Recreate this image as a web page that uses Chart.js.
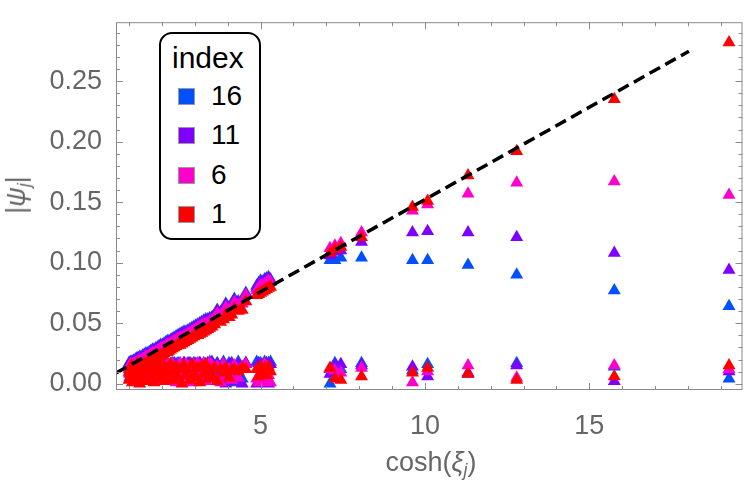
<!DOCTYPE html>
<html>
<head>
<meta charset="utf-8">
<script src="https://cdn.jsdelivr.net/npm/chart.js@4.4.0/dist/chart.umd.min.js"></script>
<style>
  body { margin: 0; background: #fff; }
  #caixa { position: relative; width: 750px; height: 488px; font-family: "Liberation Sans", Arial, sans-serif; }
  #grafico { position: absolute; left: 0; top: 0; }
  #tituloY { position: absolute; left: 20px; top: 195px; transform: translate(-50%, -50%) rotate(-90deg);
             font-size: 27px; color: #666; white-space: nowrap; line-height: 30px; }
  #tituloX { position: absolute; left: 431px; top: 442px; transform: translateX(-50%);
             font-size: 27px; color: #666; white-space: nowrap; line-height: 40px; }
  sub { font-size: 0.65em; vertical-align: -0.3em; }
  #legenda { position: absolute; left: 159px; top: 32px; width: 98px; height: 204px;
             border: 2px solid #000; border-radius: 13px; background: #fff; }
  #legenda .cab { position: absolute; left: 11px; top: 4px; font-size: 30px; line-height: 40px; color: #000; }
  #legenda .linha { position: absolute; left: 0; height: 40px; width: 98px; }
  #legenda .quad { position: absolute; left: 17px; top: 12px; width: 15px; height: 15px; border: 1px solid #999; }
  #legenda .txt { position: absolute; left: 50px; top: 0; font-size: 28px; line-height: 40px; color: #000; }
</style>
</head>
<body>
<div id="caixa">
  <canvas id="grafico" width="750" height="488"></canvas>
  <div id="tituloY">|<i>ψ</i><sub><i>j</i></sub>|</div>
  <div id="tituloX">cosh(<i>ξ</i><sub><i>j</i></sub>)</div>
  <div id="legenda"><div class="cab">index</div></div>
</div>
<script>
// cosh(xi_j)
const xCosh = [
  1.00, 1.02, 1.04, 1.07, 1.10, 1.13, 1.16, 1.20, 1.24, 1.28,
  1.32, 1.36, 1.41, 1.46, 1.51, 1.56, 1.61, 1.66, 1.71, 1.76,
  1.81, 1.86, 1.91, 1.96, 2.01, 2.06, 2.11, 2.16, 2.21, 2.26,
  2.31, 2.37, 2.43, 2.49, 2.55, 2.61, 2.67, 2.73, 2.79, 2.85,
  2.91, 2.97, 3.03, 3.09, 3.15, 3.21, 3.27, 3.33, 3.39, 3.45,
  3.52, 3.60, 3.68, 3.78, 3.87, 3.94, 4.04, 4.12, 4.20, 4.32, 4.44, 4.55,
  4.88, 4.94, 5.00, 5.06, 5.12, 5.18, 5.24, 5.30,
  7.11, 7.26, 7.44, 8.07, 9.62, 10.08, 11.31, 12.79, 15.76, 19.25
];

// ramo de cima |psi_j|
const alto16 = [
  0.017, 0.017, 0.018, 0.018, 0.018, 0.019, 0.019, 0.020, 0.021, 0.021,
  0.022, 0.022, 0.023, 0.024, 0.025, 0.025, 0.026, 0.027, 0.028, 0.028,
  0.029, 0.030, 0.031, 0.032, 0.032, 0.033, 0.034, 0.035, 0.035, 0.036,
  0.037, 0.038, 0.039, 0.040, 0.041, 0.042, 0.043, 0.043, 0.044, 0.045,
  0.046, 0.047, 0.048, 0.049, 0.050, 0.051, 0.052, 0.053, 0.053, 0.054,
  0.055, 0.057, 0.061, 0.059, 0.061, 0.066, 0.063, 0.065, 0.070, 0.068, 0.069, 0.075,
  0.081, 0.083, 0.085, 0.084, 0.086, 0.087, 0.088, 0.086,
  0.102, 0.102, 0.104, 0.104, 0.102, 0.102, 0.098, 0.090, 0.077, 0.064
];
const alto11 = [
  0.016, 0.016, 0.017, 0.017, 0.017, 0.018, 0.018, 0.019, 0.020, 0.020,
  0.021, 0.021, 0.022, 0.023, 0.024, 0.024, 0.025, 0.026, 0.027, 0.027,
  0.028, 0.029, 0.030, 0.031, 0.031, 0.032, 0.033, 0.034, 0.034, 0.035,
  0.036, 0.037, 0.038, 0.039, 0.040, 0.041, 0.042, 0.042, 0.043, 0.044,
  0.045, 0.046, 0.047, 0.048, 0.049, 0.050, 0.051, 0.052, 0.052, 0.053,
  0.054, 0.056, 0.060, 0.058, 0.060, 0.065, 0.062, 0.064, 0.069, 0.067, 0.068, 0.074,
  0.079, 0.082, 0.084, 0.083, 0.085, 0.086, 0.087, 0.085,
  0.106, 0.109, 0.110, 0.117, 0.125, 0.126, 0.125, 0.121, 0.108, 0.094
];
const alto6 = [
  0.014, 0.014, 0.015, 0.015, 0.015, 0.016, 0.016, 0.017, 0.018, 0.018,
  0.019, 0.019, 0.020, 0.021, 0.022, 0.022, 0.023, 0.024, 0.025, 0.025,
  0.026, 0.027, 0.028, 0.029, 0.029, 0.030, 0.031, 0.032, 0.032, 0.033,
  0.034, 0.035, 0.036, 0.037, 0.038, 0.038, 0.039, 0.040, 0.041, 0.042,
  0.043, 0.044, 0.045, 0.046, 0.047, 0.048, 0.049, 0.049, 0.050, 0.051,
  0.052, 0.054, 0.058, 0.056, 0.058, 0.063, 0.060, 0.062, 0.067, 0.065, 0.066, 0.073,
  0.077, 0.079, 0.081, 0.080, 0.082, 0.083, 0.085, 0.084,
  0.112, 0.114, 0.116, 0.125, 0.143, 0.148, 0.157, 0.166, 0.167, 0.156
];
const alto1 = [
  0.009, 0.010, 0.010, 0.010, 0.011, 0.011, 0.012, 0.012, 0.013, 0.013,
  0.014, 0.014, 0.015, 0.016, 0.017, 0.017, 0.018, 0.019, 0.019, 0.020,
  0.021, 0.022, 0.023, 0.023, 0.024, 0.025, 0.026, 0.026, 0.027, 0.028,
  0.029, 0.030, 0.031, 0.032, 0.032, 0.033, 0.034, 0.035, 0.036, 0.037,
  0.038, 0.039, 0.040, 0.040, 0.041, 0.042, 0.043, 0.044, 0.045, 0.046,
  0.047, 0.049, 0.052, 0.051, 0.053, 0.057, 0.055, 0.057, 0.062, 0.060, 0.061, 0.068,
  0.073, 0.074, 0.075, 0.076, 0.077, 0.078, 0.079, 0.080,
  0.108, 0.111, 0.113, 0.121, 0.146, 0.151, 0.172, 0.192, 0.235, 0.282
];

// ramo de baixo |psi_j|
const baixo16 = [
  0.017, 0.013, 0.010, 0.017, 0.016, 0.012, 0.017, 0.009, 0.015, 0.017,
  0.011, 0.016, 0.017, 0.013, 0.007, 0.017, 0.012, 0.016, 0.017, 0.010,
  0.014, 0.017, 0.016, 0.011, 0.017, 0.013, 0.015, 0.017, 0.009, 0.016,
  0.017, 0.012, 0.016, 0.017, 0.010, 0.015, 0.017, 0.013, 0.017, 0.014,
  0.011, 0.017, 0.016, 0.008, 0.017, 0.015, 0.017, 0.012, 0.016, 0.018,
  0.018, 0.014, 0.017, 0.012, 0.018, 0.003, 0.017, 0.016, 0.001, 0.018, 0.004, 0.017,
  0.018, 0.012, 0.017, 0.006, 0.018, 0.010, 0.017, 0.018,
  0.000, 0.017, 0.012, 0.017, 0.011, 0.016, 0.008, 0.017, 0.014, 0.004
];
const baixo11 = [
  0.015, 0.008, 0.017, 0.012, 0.004, 0.016, 0.010, 0.014, 0.017, 0.006,
  0.013, 0.017, 0.008, 0.011, 0.016, 0.014, 0.003, 0.017, 0.012, 0.009,
  0.015, 0.017, 0.011, 0.016, 0.008, 0.013, 0.017, 0.005, 0.015, 0.012,
  0.010, 0.017, 0.014, 0.007, 0.016, 0.013, 0.017, 0.009, 0.015, 0.017,
  0.012, 0.006, 0.016, 0.010, 0.017, 0.013, 0.004, 0.015, 0.017, 0.008,
  0.017, 0.010, 0.016, 0.007, 0.017, 0.000, 0.015, 0.017, 0.002, 0.016, 0.000, 0.017,
  0.000, 0.017, 0.002, 0.015, 0.001, 0.017, 0.000, 0.016,
  0.008, 0.015, 0.016, 0.015, 0.014, 0.006, 0.009, 0.015, 0.002, 0.010
];
const baixo6 = [
  0.012, 0.005, 0.016, 0.009, 0.014, 0.002, 0.011, 0.017, 0.007, 0.013,
  0.015, 0.004, 0.010, 0.016, 0.012, 0.006, 0.017, 0.009, 0.003, 0.014,
  0.011, 0.016, 0.007, 0.002, 0.015, 0.010, 0.013, 0.017, 0.005, 0.012,
  0.016, 0.008, 0.001, 0.014, 0.017, 0.011, 0.006, 0.016, 0.013, 0.009,
  0.001, 0.015, 0.012, 0.017, 0.008, 0.010, 0.016, 0.002, 0.014, 0.017,
  0.015, 0.004, 0.014, 0.001, 0.016, 0.006, 0.012, 0.003, 0.015, 0.005, 0.014, 0.016,
  0.004, 0.001, 0.009, 0.003, 0.016, 0.002, 0.007, 0.001,
  0.012, 0.011, 0.009, 0.013, 0.001, 0.010, 0.015, 0.005, 0.015, 0.012
];
const baixo1 = [
  0.003, 0.011, 0.006, 0.015, 0.001, 0.009, 0.013, 0.004, 0.016, 0.008,
  0.000, 0.012, 0.005, 0.014, 0.010, 0.002, 0.015, 0.007, 0.012, 0.001,
  0.016, 0.009, 0.004, 0.013, 0.006, 0.015, 0.002, 0.011, 0.008, 0.016,
  0.003, 0.010, 0.014, 0.005, 0.012, 0.000, 0.015, 0.007, 0.011, 0.003,
  0.016, 0.009, 0.005, 0.013, 0.001, 0.014, 0.008, 0.016, 0.004, 0.011,
  0.006, 0.013, 0.002, 0.012, 0.009, 0.013, 0.005, 0.011, 0.012, 0.010, 0.013, 0.012,
  0.012, 0.006, 0.014, 0.009, 0.013, 0.007, 0.014, 0.010,
  0.013, 0.004, 0.003, 0.006, 0.009, 0.013, 0.008, 0.003, 0.006, 0.015
];

const indices = ['16', '11', '6', '1'];
const cores = ['#0050ff', '#8000ff', '#ff00cc', '#ff0000'];

// reta tracejada
const retaX = [0.6, 18.03];
const retaY = [0.0088, 0.2747];

const ticksX = [5, 10, 15];
const ticksY = [0, 0.05, 0.10, 0.15, 0.20, 0.25];

const fonte = '"Liberation Sans", Arial, sans-serif';

const altos = [alto16, alto11, alto6, alto1];
const baixos = [baixo16, baixo11, baixo6, baixo1];

function pontos(alto, baixo) {
  const p = xCosh.map((x, i) => ({ x: x, y: alto[i] }));
  return p.concat(xCosh.map((x, i) => ({ x: x, y: baixo[i] })));
}

const series = indices.map((idx, k) => ({
  label: idx,
  data: pontos(altos[k], baixos[k]),
  backgroundColor: cores[k],
  borderWidth: 0,
  pointStyle: 'triangle',
  pointRadius: 7.5,
  pointHoverRadius: 7.5,
  order: 4 - k
}));

const reta = {
  data: retaX.map((x, i) => ({ x: x, y: retaY[i] })),
  showLine: true,
  borderColor: '#000',
  borderWidth: 3.5,
  borderDash: [12, 6],
  pointRadius: 0,
  fill: false,
  clip: 0,
  order: 0
};

const moldura = {
  id: 'moldura',
  afterDraw(chart) {
    const ctx = chart.ctx;
    const a = chart.chartArea;
    const sx = chart.scales.x, sy = chart.scales.y;
    ctx.save();
    ctx.strokeStyle = '#8a8a8a';
    ctx.lineWidth = 1;
    ctx.beginPath();
    for (let v = 1; v <= 19; v++) {
      const p = Math.round(sx.getPixelForValue(v)) + 0.5;
      const t = ticksX.includes(v) ? 7 : 4;
      ctx.moveTo(p, a.bottom); ctx.lineTo(p, a.bottom - t);
      ctx.moveTo(p, a.top); ctx.lineTo(p, a.top + t);
    }
    for (let k = 0; k <= 29; k++) {
      const p = Math.round(sy.getPixelForValue(k / 100)) + 0.5;
      const t = k % 5 === 0 ? 7 : 4;
      ctx.moveTo(a.left, p); ctx.lineTo(a.left + t, p);
      ctx.moveTo(a.right, p); ctx.lineTo(a.right - t, p);
    }
    ctx.stroke();
    ctx.strokeRect(a.left + 0.5, a.top + 0.5, a.right - a.left - 1, a.bottom - a.top - 1);
    ctx.restore();
  }
};

const canva = document.getElementById('grafico');

const grafico = new Chart(canva, {
  type: 'scatter',
  data: { datasets: series.concat([reta]) },
  options: {
    responsive: false,
    animation: false,
    layout: { padding: { top: 1, right: 3, left: 0, bottom: 0 } },
    plugins: { legend: { display: false }, tooltip: { enabled: false } },
    scales: {
      x: {
        type: 'linear',
        min: 0.60,
        max: 19.66,
        grid: { display: false },
        border: { display: false },
        afterBuildTicks: s => { s.ticks = ticksX.map(v => ({ value: v })); },
        afterFit: s => { s.height = 98; },
        ticks: { autoSkip: false, maxRotation: 0, padding: 12, color: '#666', font: { size: 27, family: fonte } }
      },
      y: {
        type: 'linear',
        min: -0.0052,
        max: 0.2987,
        grid: { display: false },
        border: { display: false },
        afterBuildTicks: s => { s.ticks = ticksY.map(v => ({ value: v })); },
        afterFit: s => { s.width = 116; },
        ticks: { autoSkip: false, padding: 6, color: '#666', font: { size: 27, family: fonte },
                 callback: v => v.toFixed(2) }
      }
    }
  },
  plugins: [moldura]
});

const legenda = document.getElementById('legenda');
series.forEach((d, k) => {
  const linha = document.createElement('div');
  linha.className = 'linha';
  linha.style.top = (42 + k * 39.3) + 'px';
  const quad = document.createElement('div');
  quad.className = 'quad';
  quad.style.background = d.backgroundColor;
  const txt = document.createElement('div');
  txt.className = 'txt';
  txt.textContent = d.label;
  linha.appendChild(quad);
  linha.appendChild(txt);
  legenda.appendChild(linha);
});
</script>
</body>
</html>
